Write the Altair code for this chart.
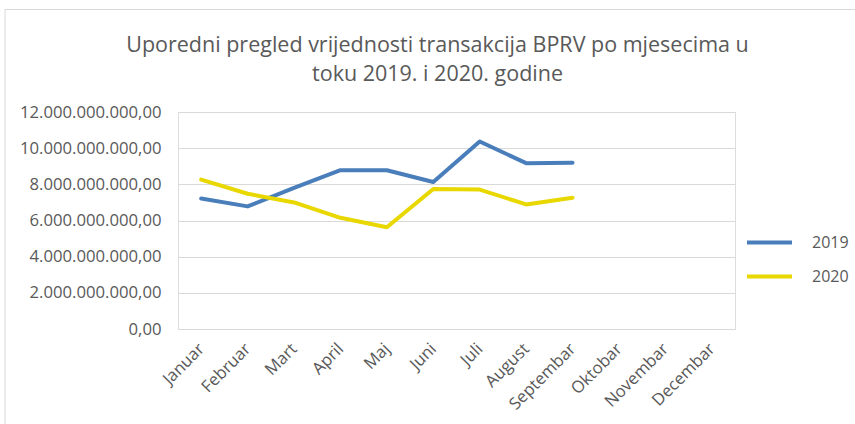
import altair as alt
import pandas as pd

months = ["Januar", "Februar", "Mart", "April", "Maj", "Juni", "Juli",
          "August", "Septembar", "Oktobar", "Novembar", "Decembar"]
vals_2019 = [7.22e9, 6.78e9, 7.80e9, 8.78e9, 8.78e9, 8.13e9, 10.37e9, 9.17e9, 9.19e9]
vals_2020 = [8.26e9, 7.48e9, 7.00e9, 6.15e9, 5.63e9, 7.74e9, 7.71e9, 6.89e9, 7.26e9]
series = ["2019", "2020"]
y_ticks = [0, 2e9, 4e9, 6e9, 8e9, 10e9, 12e9]

rows = []
for s, vals in zip(series, [vals_2019, vals_2020]):
    for m, v in zip(months, vals):
        rows.append({"Mjesec": m, "Vrijednost": v, "Godina": s})
df = pd.DataFrame(rows)

label_expr = ("replace(replace(replace(format(datum.value, ',.2f'), regexp(',', 'g'), '#'), "
              "regexp('\\\\.', 'g'), ','), regexp('#', 'g'), '.')")

lines = alt.Chart(df).mark_line(strokeWidth=4, strokeCap="round", strokeJoin="round").encode(
    x=alt.X("Mjesec:N", sort=months, scale=alt.Scale(domain=months),
            axis=alt.Axis(title=None, labelAngle=-45, labelAlign="right", labelBaseline="middle",
                          ticks=False, domain=True, domainColor="#D9D9D9", domainWidth=1,
                          labelFont="Open Sans", labelFontSize=16.7, labelColor="#595959",
                          labelPadding=17, grid=False)),
    y=alt.Y("Vrijednost:Q", scale=alt.Scale(domain=[0, 12e9], nice=False),
            axis=alt.Axis(title=None, values=y_ticks, labelExpr=label_expr, ticks=False,
                          domain=False, gridColor="#D9D9D9", gridWidth=1,
                          labelFont="Open Sans", labelFontSize=16.7, labelColor="#595959",
                          labelPadding=17)),
    color=alt.Color("Godina:N", scale=alt.Scale(domain=series, range=["#4A7EBB", "#E8D800"]),
                    legend=alt.Legend(title=None, orient="none", legendX=567, legendY=106,
                                      symbolType="stroke", symbolSize=2025, symbolStrokeWidth=4,
                                      labelFont="Open Sans", labelFontSize=16, labelColor="#595959",
                                      rowPadding=1, labelOffset=18)),
)

frame = alt.Chart(pd.DataFrame({"f": [0]})).mark_rect(fill=None, stroke="#D9D9D9", strokeWidth=1).encode(
    x=alt.value(-173), x2=alt.value(720), y=alt.value(-102.5), y2=alt.value(340)
)

chart = alt.layer(frame, lines).properties(
    width=557, height=217,
    title=alt.TitleParams(["Uporedni pregled vrijednosti transakcija BPRV po mjesecima u",
                           "toku 2019. i 2020. godine"],
                          font="Open Sans", fontSize=21.5, fontWeight="normal", color="#595959",
                          anchor="middle", frame="group", dx=-19, offset=-76, lineHeight=29),
    autosize=alt.AutoSizeParams(type="none"),
    padding={"left": 178, "top": 112, "right": 120, "bottom": 95},
).configure_view(stroke=None).configure(background="white")

chart.save("out.html", embed_options={"renderer": "svg", "actions": False})
